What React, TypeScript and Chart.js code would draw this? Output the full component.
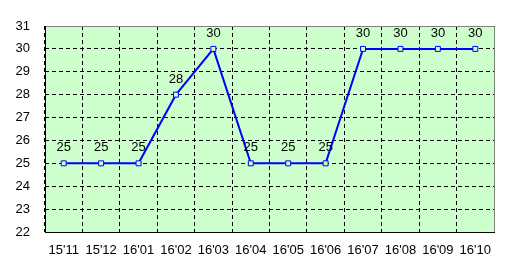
import React, { useEffect, useRef } from "react";
import { Chart, registerables } from "chart.js";

Chart.register(...registerables);

const categories = ["15'11", "15'12", "16'01", "16'02", "16'03", "16'04", "16'05", "16'06", "16'07", "16'08", "16'09", "16'10"];
const values = [25, 25, 25, 28, 30, 25, 25, 25, 30, 30, 30, 30];
const yMin = 22;
const yMax = 31;

const FONT = "'Liberation Sans', Arial, sans-serif";

const framePlugin = {
  id: "frame",
  beforeDraw(chart: any) {
    const { ctx, chartArea: a } = chart;
    ctx.save();
    ctx.fillStyle = "#CCFFCC";
    ctx.fillRect(a.left, a.top, a.right - a.left, a.bottom - a.top);
    ctx.restore();
  },
  afterDraw(chart: any) {
    const { ctx, chartArea: a } = chart;
    ctx.save();
    ctx.strokeStyle = "#808080";
    ctx.lineWidth = 1;
    ctx.beginPath();
    ctx.moveTo(a.left, a.top + 0.5);
    ctx.lineTo(a.right + 0.5, a.top + 0.5);
    ctx.lineTo(a.right + 0.5, a.bottom);
    ctx.stroke();
    ctx.strokeStyle = "#000000";
    ctx.beginPath();
    ctx.moveTo(a.left + 0.5, a.top);
    ctx.lineTo(a.left + 0.5, a.bottom + 0.5);
    ctx.lineTo(a.right + 1, a.bottom + 0.5);
    ctx.stroke();
    ctx.restore();
  },
};

const labelPlugin = {
  id: "dataLabels",
  afterDatasetsDraw(chart: any) {
    const { ctx } = chart;
    const meta = chart.getDatasetMeta(0);
    ctx.save();
    ctx.fillStyle = "#000000";
    ctx.font = "13px " + FONT;
    ctx.textAlign = "center";
    ctx.textBaseline = "bottom";
    meta.data.forEach((pt: any, i: number) => {
      ctx.fillText(String(values[i]), pt.x, pt.y - 9);
    });
    ctx.restore();
  },
};

export default function App() {
  const ref = useRef<HTMLCanvasElement>(null);
  useEffect(() => {
    if (!ref.current) return;
    const chart = new Chart(ref.current, {
      type: "line",
      data: {
        labels: categories,
        datasets: [
          {
            data: values,
            borderColor: "#0000FF",
            borderWidth: 2,
            pointStyle: "rect",
            pointRadius: 3.5,
            pointBorderWidth: 1,
            pointBorderColor: "#0000FF",
            pointBackgroundColor: "#CCFFCC",
            tension: 0,
          },
        ],
      },
      options: {
        responsive: false,
        animation: false,
        layout: { padding: { left: 0, right: 15, top: 26, bottom: 0 } },
        plugins: { legend: { display: false }, tooltip: { enabled: false } },
        scales: {
          x: {
            type: "category",
            offset: true,
            grid: {
              offset: true,
              color: "#000000",
              lineWidth: 1,
              drawTicks: false,
            },
            border: { display: false, dash: [4, 3] },
            ticks: {
              color: "#000000",
              padding: 11,
              maxRotation: 0,
              autoSkip: false,
              font: { family: FONT, size: 13 },
            },
            afterFit(scale: any) {
              scale.height = 43;
            },
          },
          y: {
            min: yMin,
            max: yMax,
            ticks: {
              stepSize: 1,
              color: "#000000",
              padding: 15,
              font: { family: FONT, size: 13 },
            },
            grid: {
              color: "#000000",
              lineWidth: 1,
              drawTicks: false,
            },
            border: { display: false, dash: [4, 3] },
            afterFit(scale: any) {
              scale.width = 45;
            },
          },
        },
      },
      plugins: [framePlugin, labelPlugin],
    });
    return () => chart.destroy();
  }, []);
  return (
    <div style={{ position: "absolute", left: 0, top: 0, width: 509, height: 275, background: "#fff" }}>
      <canvas ref={ref} width={509} height={275} style={{ width: 509, height: 275 }} />
    </div>
  );
}
